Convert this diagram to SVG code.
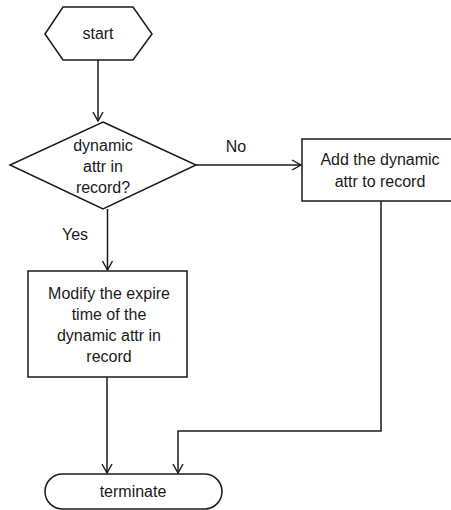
<svg xmlns="http://www.w3.org/2000/svg" width="451" height="510" viewBox="0 0 451 510">
  <defs>
    <marker id="arrow" markerWidth="12" markerHeight="12" refX="10" refY="6" orient="auto" markerUnits="userSpaceOnUse">
      <path d="M1,1 L10,6 L1,11" fill="none" stroke="#1a1a1a" stroke-width="1.4"/>
    </marker>
  </defs>
  <style>
    .shape { fill: #ffffff; stroke: #1a1a1a; stroke-width: 1.5; }
    .edge { fill: none; stroke: #1a1a1a; stroke-width: 1.5; }
    text { font-family: "Liberation Sans", Arial, sans-serif; font-size: 16px; fill: #1a1a1a; text-anchor: middle; }
  </style>
  <rect width="451" height="510" fill="#ffffff"/>

  <g id="connectors">
    <line class="edge" x1="98" y1="60" x2="98" y2="121" marker-end="url(#arrow)"/>
    <line class="edge" x1="196" y1="165" x2="301" y2="165" marker-end="url(#arrow)"/>
    <line class="edge" x1="107.5" y1="209" x2="107.5" y2="270" marker-end="url(#arrow)"/>
    <line class="edge" x1="107" y1="377" x2="107" y2="473" marker-end="url(#arrow)"/>
    <polyline class="edge" points="381,201 381,431 178,431 178,473" marker-end="url(#arrow)"/>
    <text x="236" y="152">No</text>
    <text x="75" y="240">Yes</text>
  </g>

  <g id="start">
    <polygon class="shape" points="45,34 63,7 133,7 152,34 133,60 63,60"/>
    <text x="98" y="39">start</text>
  </g>

  <g id="decision">
    <polygon class="shape" points="103,122 196,165 103,209 10,165"/>
    <text x="103" y="151">dynamic</text>
    <text x="103" y="172">attr in</text>
    <text x="103" y="193">record?</text>
  </g>

  <g id="add">
    <rect class="shape" x="302" y="139" width="160" height="62"/>
    <text x="380" y="165">Add the dynamic</text>
    <text x="380" y="187">attr to record</text>
  </g>

  <g id="modify">
    <rect class="shape" x="28" y="271" width="159" height="106"/>
    <text x="109" y="299">Modify the expire</text>
    <text x="109" y="320">time of the</text>
    <text x="109" y="341">dynamic attr in</text>
    <text x="109" y="362">record</text>
  </g>

  <g id="terminate">
    <rect class="shape" x="45" y="474" width="177" height="35" rx="17.5" ry="17.5"/>
    <text x="133" y="497">terminate</text>
  </g>
</svg>
